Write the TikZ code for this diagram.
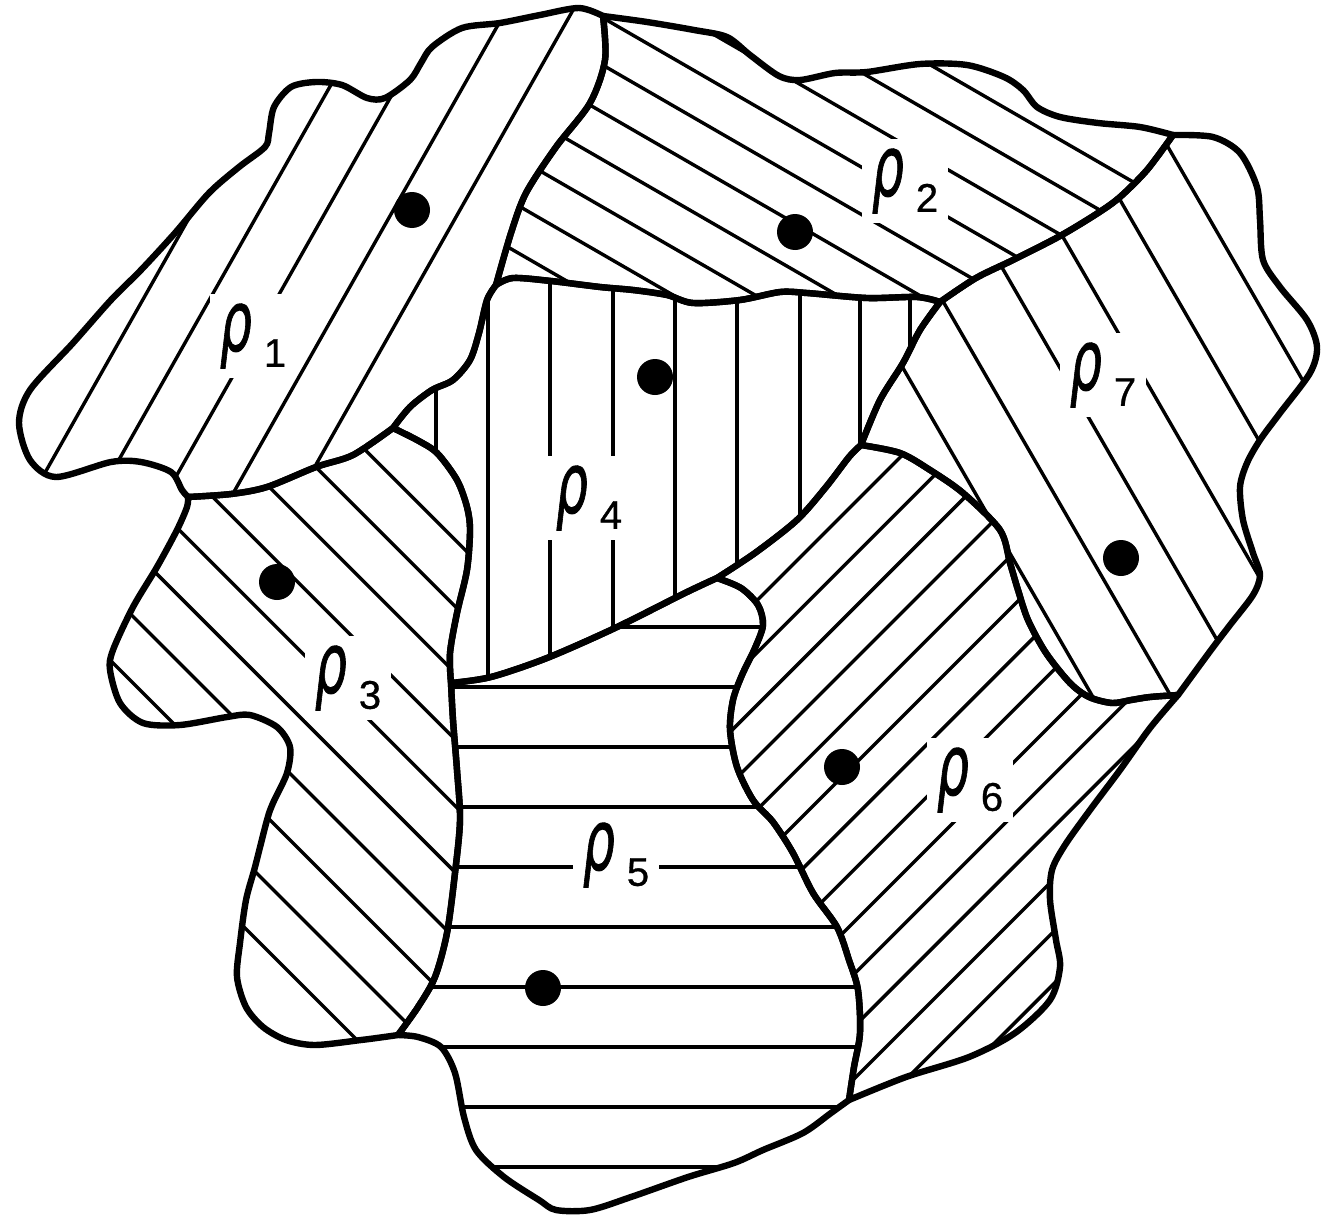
\documentclass[tikz,border=0pt]{standalone}
\usepackage{graphicx}
\usepackage{fontspec}
\newfontfamily\rhofont[FakeBold=1.2]{DejaVu Sans}
\newfontfamily\labelfont[FakeBold=0.8]{Liberation Sans}
\newcommand\rholabel[1]{{\rhofont\itshape\fontsize{84}{84}\selectfont\scalebox{0.6}[1]{ρ}}\kern12pt\raisebox{-16pt}{\labelfont\fontsize{40}{40}\selectfont #1}}

% the seven regions, each as one closed smooth path
\newcommand\regionone{plot[smooth] coordinates {(603,16) (605,60) (590,103) (556,147) (526,193) (511,233) (496,285)}
  -- plot[smooth] coordinates {(496,285) (487,300) (479,333) (470,360) (453,380) (432,390) (410,407) (393,428)}
  -- plot[smooth] coordinates {(393,428) (353,455) (316,467) (267,487) (231,494) (188,497)}
  -- plot[smooth] coordinates {(188,497) (182,490) (171,472) (141,462) (111,462) (56,477) (30,460) (19,423) (30,390) (73,343) (111,300) (141,270) (175,233) (209,193) (239,167) (265,147) (269,133) (274,107) (291,87) (316,82) (342,85) (367,98) (385,98) (410,80) (421,63) (432,47) (462,28) (500,23) (540,15) (579,8) (603,16)} -- cycle}
\newcommand\regiontwo{plot[smooth] coordinates {(603,16) (647,22) (694,30) (727,37) (750,55) (779,76) (800,80) (835,73) (867,72) (920,64) (967,65) (1004,77) (1023,90) (1037,107) (1060,117) (1098,123) (1140,127) (1173,135)}
  -- plot[smooth] coordinates {(1173,135) (1147,170) (1120,197) (1098,213) (1060,236) (1013,260) (976,278) (940,302)}
  -- plot[smooth] coordinates {(940,302) (917,297) (867,298) (807,293) (780,292) (740,300) (693,303) (667,295) (633,290) (600,287) (551,281) (513,278) (496,285)}
  -- plot[smooth] coordinates {(496,285) (511,233) (526,193) (556,147) (590,103) (605,60) (603,16)} -- cycle}
\newcommand\regionthree{plot[smooth] coordinates {(393,428) (417,440) (437,453) (457,480) (467,507) (470,530) (467,570) (457,613) (450,653) (451,683)}
  -- plot[smooth] coordinates {(451,683) (453,720) (457,770) (460,820) (455,873) (447,933) (435,977) (418,1007) (398,1035)}
  -- plot[smooth] coordinates {(398,1035) (384,1037) (361,1040) (315,1045) (286,1040) (263,1027) (246,1007) (237,977) (240,943) (246,900) (255,867) (267,820) (273,803) (287,773) (290,747) (277,727) (250,715) (227,717) (180,725) (143,723) (120,703) (110,670) (113,650) (133,607) (157,567) (177,530) (187,507) (188,497)}
  -- plot[smooth] coordinates {(188,497) (231,494) (267,487) (316,467) (353,455) (393,428)} -- cycle}
\newcommand\regionfour{plot[smooth] coordinates {(496,285) (513,278) (551,281) (600,287) (633,290) (667,295) (693,303) (740,300) (780,292) (807,293) (867,298) (917,297) (940,302)}
  -- plot[smooth] coordinates {(940,302) (920,330) (903,363) (880,400) (861,445)}
  -- plot[smooth] coordinates {(861,445) (849,457) (826,487) (797,520) (755,553) (717,578)}
  -- plot[smooth] coordinates {(717,578) (685,593) (615,628) (547,658) (491,677) (451,683)}
  -- plot[smooth] coordinates {(451,683) (450,653) (457,613) (467,570) (470,530) (467,507) (457,480) (437,453) (417,440) (393,428)}
  -- plot[smooth] coordinates {(393,428) (410,407) (432,390) (453,380) (470,360) (479,333) (487,300) (496,285)} -- cycle}
\newcommand\regionfive{plot[smooth] coordinates {(451,683) (491,677) (547,658) (615,628) (685,593) (717,578)}
  -- plot[smooth] coordinates {(717,578) (741,588) (758,605) (763,625) (755,648) (742,675) (733,700) (730,730) (737,767) (753,800) (773,822) (793,853) (813,893) (837,927) (849,960) (858,990) (860,1033) (854,1067) (849,1100)}
  -- plot[smooth] coordinates {(849,1100) (831,1113) (803,1133) (763,1150) (734,1163) (688,1177) (631,1197) (590,1210) (556,1210) (539,1200) (504,1177) (476,1150) (464,1117) (455,1073) (441,1047) (418,1037) (398,1035)}
  -- plot[smooth] coordinates {(398,1035) (418,1007) (435,977) (447,933) (455,873) (460,820) (457,770) (453,720) (451,683)} -- cycle}
\newcommand\regionsix{plot[smooth] coordinates {(717,578) (755,553) (797,520) (826,487) (849,457) (861,445)}
  -- plot[smooth] coordinates {(861,445) (900,453) (930,470) (963,493) (1000,530) (1010,563) (1018,590) (1028,620) (1046,653) (1070,683) (1089,697) (1112,703) (1131,700) (1150,697) (1178,695)}
  -- plot[smooth] coordinates {(1178,695) (1150,728) (1120,770) (1090,810) (1065,845) (1052,870) (1050,900) (1056,940) (1060,967) (1050,1000) (1015,1033) (969,1057) (906,1077) (849,1100)}
  -- plot[smooth] coordinates {(849,1100) (854,1067) (860,1033) (858,990) (849,960) (837,927) (813,893) (793,853) (773,822) (753,800) (737,767) (730,730) (733,700) (742,675) (755,648) (763,625) (758,605) (741,588) (717,578)} -- cycle}
\newcommand\regionseven{plot[smooth] coordinates {(940,302) (976,278) (1013,260) (1060,236) (1098,213) (1120,197) (1147,170) (1173,135)}
  -- plot[smooth] coordinates {(1173,135) (1213,137) (1240,153) (1257,187) (1260,220) (1263,260) (1280,287) (1307,320) (1317,347) (1310,373) (1280,413) (1260,440) (1247,463) (1240,487) (1243,520) (1253,553) (1260,575) (1253,595) (1230,625) (1211,650) (1178,695)}
  -- plot[smooth] coordinates {(1178,695) (1150,697) (1131,700) (1112,703) (1089,697) (1070,683) (1046,653) (1028,620) (1018,590) (1010,563) (1000,530) (963,493) (930,470) (900,453) (861,445)}
  -- plot[smooth] coordinates {(861,445) (880,400) (903,363) (920,330) (940,302)} -- cycle}

\begin{document}
\begin{tikzpicture}[x=1pt,y=-1pt,
    border/.style={line width=6.4pt, line join=round, line cap=round},
    hatch/.style={line width=3.4pt},
    lab/.style={fill=white, inner sep=10pt},
    dot/.style={circle, fill=black, inner sep=0pt, minimum size=36pt}]
  \useasboundingbox (0,0) rectangle (1337,1217);

  % hatching of each region
  \begin{scope}
    \clip \regionone;
    \foreach \p in {272,330,...,504}
      \draw[hatch] ({0.870*\p-2000*0.492},{0.492*\p+2000*0.870}) -- ({0.870*\p+2000*0.492},{0.492*\p-2000*0.870});
  \end{scope}
  \begin{scope}
    \clip \regiontwo;
    \foreach \q in {-40,-81,...,-412}
      \draw[hatch] ({-0.5*\q-2000*0.866},{0.866*\q-2000*0.5}) -- ({-0.5*\q+2000*0.866},{0.866*\q+2000*0.5});
  \end{scope}
  \begin{scope}
    \clip \regionthree;
    \foreach \q in {60,107,...,483}
      \draw[hatch] ({-0.707*\q-2000*0.707},{0.707*\q-2000*0.707}) -- ({-0.707*\q+2000*0.707},{0.707*\q+2000*0.707});
  \end{scope}
  \begin{scope}
    \clip \regionfour;
    \foreach \x in {436,488,550,613,675,737,800,860,910}
      \draw[hatch] (\x,250) -- (\x,720);
  \end{scope}
  \begin{scope}
    \clip \regionfive;
    \foreach \y in {627,687,...,1167}
      \draw[hatch] (400,\y) -- (900,\y);
  \end{scope}
  \begin{scope}
    \clip \regionsix;
    \foreach \p in {960,997,...,1441}
      \draw[hatch] ({0.707*\p-2000*0.707},{0.707*\p+2000*0.707}) -- ({0.707*\p+2000*0.707},{0.707*\p-2000*0.707});
  \end{scope}
  \begin{scope}
    \clip \regionseven;
    \foreach \q in {-598,-666,...,-938}
      \draw[hatch] ({-0.866*\q-2000*0.5},{0.5*\q-2000*0.866}) -- ({-0.866*\q+2000*0.5},{0.5*\q+2000*0.866});
  \end{scope}

  % labels
  \node[lab] (labone) at (253,336) {\rholabel{1}};
  \node[lab] (labtwo) at (905,181) {\rholabel{2}};
  \node[lab] (labthree) at (348,678) {\rholabel{3}};
  \node[lab] (labfour) at (589,498) {\rholabel{4}};
  \node[lab] (labfive) at (616,855) {\rholabel{5}};
  \node[lab] (labsix) at (970,780) {\rholabel{6}};
  \node[lab] (labseven) at (1103,375) {\rholabel{7}};

  % boundaries
  \draw[border] \regionone;
  \draw[border] \regiontwo;
  \draw[border] \regionthree;
  \draw[border] \regionfour;
  \draw[border] \regionfive;
  \draw[border] \regionsix;
  \draw[border] \regionseven;

  % sites
  \node[dot] (dotone) at (412,210) {};
  \node[dot] (dottwo) at (795,232) {};
  \node[dot] (dotthree) at (277,582) {};
  \node[dot] (dotfour) at (655,377) {};
  \node[dot] (dotfive) at (543,988) {};
  \node[dot] (dotsix) at (842,767) {};
  \node[dot] (dotseven) at (1121,558) {};
\end{tikzpicture}
\end{document}
